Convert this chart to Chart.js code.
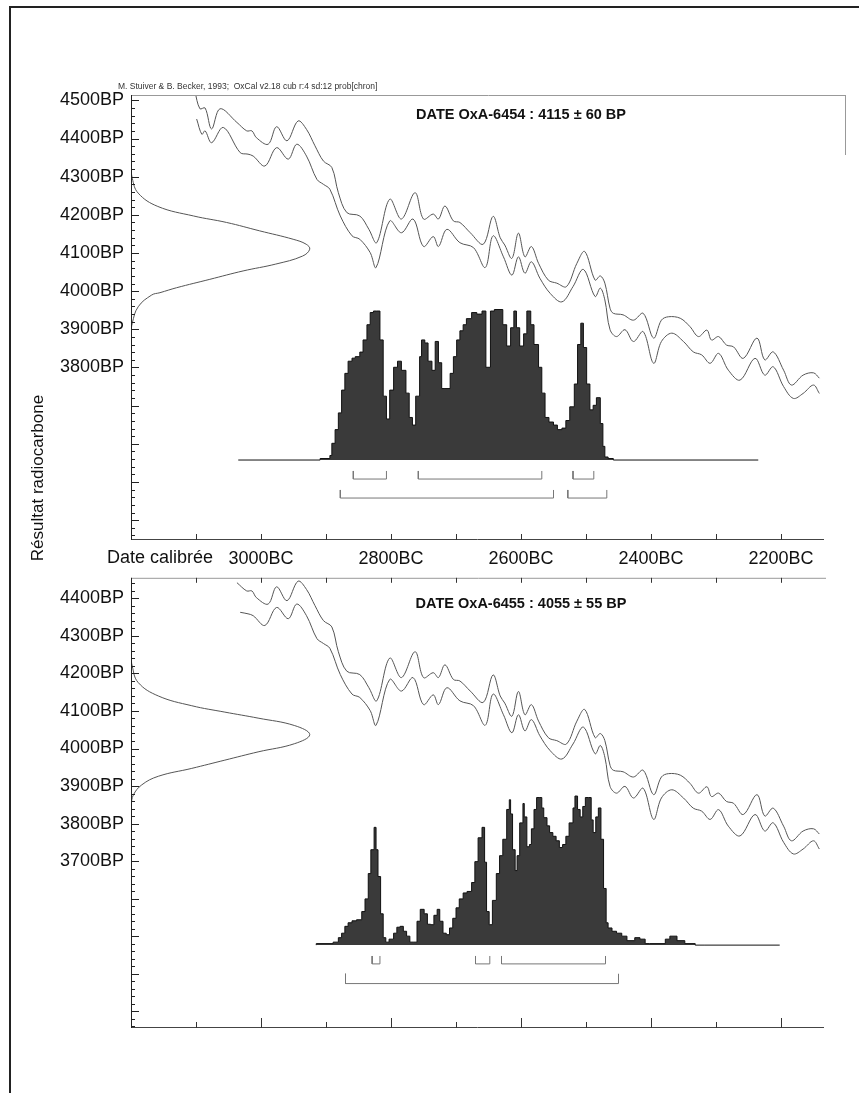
<!DOCTYPE html>
<html>
<head>
<meta charset="utf-8">
<script src="https://cdn.jsdelivr.net/npm/chart.js@4.4.1/dist/chart.umd.min.js"></script>
<style>
  body { margin: 0; background: #fff; width: 859px; height: 1093px; position: relative; overflow: hidden; }
  #page { position: absolute; left: 9px; top: 6px; width: 860px; height: 1100px; border-left: 2px solid #222; border-top: 2px solid #222; }
  #c1 { position: absolute; left: 0; top: 0; }
  #c2 { position: absolute; left: 0; top: 560px; }
</style>
</head>
<body>
<div id="page"></div>
<canvas id="c1" width="859" height="580" style="width:859px;height:580px"></canvas>
<canvas id="c2" width="859" height="533" style="width:859px;height:533px"></canvas>
<script>
const sourceText = "M. Stuiver & B. Becker, 1993;  OxCal v2.18 cub r:4 sd:12 prob[chron]";
const titles = ["DATE OxA-6454 : 4115 ± 60 BP", "DATE OxA-6455 : 4055 ± 55 BP"];
const bcTicks = [3000, 2800, 2600, 2400, 2200];
const bpTicksTop = [4500, 4400, 4300, 4200, 4100, 4000, 3900, 3800];
const bpTicksBottom = [4400, 4300, 4200, 4100, 4000, 3900, 3800, 3700];

// calibration curve, [BC, BP]
const curveUpper = [
  [3102, 4525], [3094, 4478], [3086, 4480], [3076, 4425], [3063, 4478], [3037, 4442], [3022, 4420],
  [3014, 4420], [3007, 4402], [2989, 4385], [2976, 4431], [2960, 4394], [2943, 4446], [2930, 4424],
  [2917, 4381], [2904, 4341], [2891, 4324], [2881, 4258], [2868, 4206], [2848, 4197], [2834, 4162],
  [2822, 4127], [2802, 4241], [2784, 4189], [2763, 4258], [2750, 4189], [2735, 4202], [2727, 4189],
  [2717, 4223], [2704, 4184], [2694, 4180], [2678, 4153], [2658, 4123], [2643, 4196], [2632, 4140],
  [2625, 4121], [2614, 4086], [2604, 4152], [2594, 4090], [2584, 4117], [2573, 4073], [2558, 4029],
  [2545, 4021], [2530, 4012], [2514, 4073], [2502, 4104], [2486, 4029], [2478, 4040], [2471, 4021],
  [2463, 3955], [2458, 3942], [2443, 3938], [2427, 3924], [2412, 3942], [2396, 3877], [2384, 3924],
  [2373, 3933], [2355, 3929], [2340, 3907], [2327, 3881], [2314, 3898], [2307, 3872], [2296, 3881],
  [2284, 3859], [2273, 3854], [2258, 3824], [2237, 3877], [2225, 3820], [2212, 3841], [2196, 3793],
  [2184, 3754], [2166, 3780], [2150, 3786], [2141, 3772]
];
const curveLower = [
  [3099, 4451], [3091, 4411], [3086, 4420], [3076, 4389], [3058, 4429], [3032, 4363], [3020, 4359],
  [3012, 4354], [2994, 4328], [2976, 4376], [2958, 4346], [2945, 4385], [2930, 4354], [2914, 4293],
  [2904, 4280], [2894, 4267], [2878, 4197], [2860, 4145], [2848, 4136], [2832, 4101], [2823, 4062],
  [2802, 4184], [2784, 4153], [2766, 4189], [2750, 4117], [2735, 4143], [2727, 4117], [2714, 4162],
  [2694, 4127], [2673, 4114], [2655, 4062], [2643, 4145], [2627, 4090], [2614, 4042], [2604, 4090],
  [2594, 4047], [2584, 4077], [2571, 4034], [2555, 3994], [2537, 3972], [2520, 4012], [2504, 4057],
  [2486, 3986], [2478, 4008], [2471, 3977], [2463, 3899], [2453, 3881], [2440, 3899], [2427, 3868],
  [2412, 3894], [2396, 3811], [2384, 3868], [2368, 3890], [2350, 3868], [2335, 3841], [2322, 3833],
  [2309, 3811], [2296, 3837], [2281, 3793], [2263, 3767], [2240, 3824], [2225, 3780], [2212, 3802],
  [2196, 3750], [2181, 3719], [2166, 3732], [2150, 3754], [2141, 3732]
];
const curveStartBottom = 3038;

// radiocarbone measurement, [BP, relative height]
const gaussTop = [
  [4330, 0], [4296, 0.007], [4257, 0.04], [4222, 0.15], [4197, 0.35], [4180, 0.535], [4158, 0.72],
  [4136, 0.907], [4123, 0.98], [4110, 1], [4092, 0.96], [4071, 0.81], [4053, 0.627], [4031, 0.441],
  [4009, 0.255], [3996, 0.162], [3990, 0.116], [3959, 0.04], [3916, 0.007], [3890, 0]
];
const gaussBottom = [
  [4250, 0], [4219, 0.007], [4176, 0.04], [4140, 0.153], [4114, 0.34], [4097, 0.525], [4081, 0.711],
  [4061, 0.916], [4037, 1], [4013, 0.916], [3991, 0.711], [3969, 0.525], [3947, 0.34], [3926, 0.153],
  [3903, 0.06], [3876, 0.013], [3850, 0]
];

// calibrated probability
const histTopBC = [3035, 2909, 2894, 2891, 2886, 2881, 2876, 2871, 2866, 2860, 2855, 2848, 2843, 2837,
  2832, 2827, 2822, 2817, 2812, 2807, 2802, 2796, 2790, 2784, 2777, 2772, 2767, 2762, 2756, 2753, 2748,
  2743, 2737, 2732, 2727, 2722, 2717, 2709, 2704, 2699, 2694, 2689, 2684, 2676, 2668, 2660, 2654, 2647,
  2641, 2628, 2622, 2616, 2611, 2607, 2602, 2596, 2591, 2585, 2580, 2573, 2568, 2563, 2557, 2550, 2544,
  2537, 2531, 2525, 2518, 2513, 2508, 2504, 2499, 2494, 2489, 2484, 2478, 2474, 2471, 2466, 2458, 2235];
const histTopProb = [0, 0, 0.01, 0.03, 0.11, 0.2, 0.31, 0.46, 0.57, 0.65, 0.67, 0.68, 0.71, 0.79,
  0.89, 0.97, 0.98, 0.98, 0.79, 0.42, 0.27, 0.46, 0.61, 0.65, 0.59, 0.44, 0.28, 0.23, 0.42, 0.68, 0.79,
  0.77, 0.65, 0.59, 0.78, 0.64, 0.47, 0.47, 0.57, 0.68, 0.79, 0.85, 0.89, 0.93, 0.97, 0.96, 0.98, 0.61,
  0.98, 0.99, 0.89, 0.75, 0.87, 0.98, 0.87, 0.75, 0.83, 0.98, 0.89, 0.76, 0.61, 0.44, 0.28, 0.25, 0.23,
  0.2, 0.21, 0.26, 0.35, 0.5, 0.76, 0.9, 0.74, 0.5, 0.33, 0.36, 0.41, 0.24, 0.09, 0.02, 0.01, 0];
const histBotBC = [2915, 2889, 2881, 2876, 2871, 2866, 2860, 2853, 2845, 2840, 2835, 2831, 2826, 2823,
  2820, 2816, 2812, 2808, 2803, 2796, 2791, 2786, 2781, 2776, 2771, 2766, 2760, 2755, 2749, 2744, 2739,
  2734, 2729, 2725, 2720, 2715, 2710, 2705, 2700, 2695, 2689, 2683, 2676, 2671, 2666, 2660, 2656, 2653,
  2649, 2644, 2638, 2633, 2628, 2622, 2618, 2616, 2613, 2609, 2606, 2602, 2597, 2595, 2591, 2587, 2584,
  2580, 2576, 2572, 2568, 2565, 2560, 2556, 2551, 2546, 2541, 2536, 2531, 2526, 2520, 2517, 2513, 2509,
  2505, 2501, 2496, 2492, 2489, 2485, 2481, 2477, 2473, 2469, 2466, 2460, 2453, 2445, 2437, 2425, 2417,
  2409, 2402, 2378, 2371, 2360, 2348, 2332, 2317, 2202];
const histBotProb = [0, 0.01, 0.02, 0.05, 0.08, 0.126, 0.15, 0.163, 0.17, 0.225, 0.31, 0.48, 0.64, 0.79,
  0.64, 0.46, 0.21, 0.05, 0.02, 0.04, 0.08, 0.12, 0.126, 0.093, 0.06, 0.02, 0.02, 0.16, 0.24, 0.21, 0.14,
  0.137, 0.2, 0.24, 0.16, 0.08, 0.07, 0.115, 0.18, 0.25, 0.31, 0.35, 0.36, 0.42, 0.56, 0.72, 0.79, 0.556,
  0.225, 0.137, 0.3, 0.48, 0.6, 0.71, 0.91, 0.975, 0.88, 0.64, 0.5, 0.6, 0.82, 0.95, 0.86, 0.66, 0.675,
  0.78, 0.91, 0.99, 0.99, 0.92, 0.855, 0.8, 0.755, 0.73, 0.7, 0.655, 0.675, 0.73, 0.82, 0.92, 1, 0.91,
  0.86, 0.93, 0.99, 0.99, 0.84, 0.755, 0.86, 0.92, 0.71, 0.38, 0.15, 0.115, 0.093, 0.08, 0.06, 0.03, 0.05,
  0.04, 0.01, 0.01, 0.04, 0.06, 0.03, 0.01, 0, 0];

// 1 sigma / 2 sigma ranges, [from BC, to BC]
const sig1Top = [[2858, 2807], [2758, 2568], [2520, 2488]];
const sig2Top = [[2878, 2550], [2528, 2468]];
const sig1Bot = [[2829, 2817], [2670, 2648], [2630, 2470]];
const sig2Bot = [[2870, 2450]];

const FONT = "'Liberation Sans', Arial, sans-serif";
Chart.defaults.font.family = FONT;

function line(ctx, x1, y1, x2, y2) {
  ctx.beginPath();
  ctx.moveTo(x1, y1);
  ctx.lineTo(x2, y2);
  ctx.stroke();
}

const decor = {
  id: "decor",
  afterDraw(chart, args, o) {
    const { ctx, chartArea: a, scales: { x, y } } = chart;
    ctx.save();
    ctx.lineWidth = 1;
    // frame
    ctx.strokeStyle = "#999";
    line(ctx, a.left, a.top + 0.5, o.rightBorder ? a.right : a.right - 20, a.top + 0.5);
    if (o.rightBorder) line(ctx, a.right - 0.5, a.top, a.right - 0.5, a.top + 60);
    ctx.strokeStyle = "#444";
    line(ctx, a.left, a.bottom - 0.5, a.right - 22, a.bottom - 0.5);
    ctx.strokeStyle = "#222";
    line(ctx, a.left + 0.5, a.top, a.left + 0.5, a.bottom);
    // y ticks, inside
    for (let v = Math.ceil(y.min / 20) * 20; v <= y.max; v += 20) {
      const py = Math.round(y.getPixelForValue(v)) + 0.5;
      line(ctx, a.left, py, a.left + (v % 100 === 0 ? 8 : 4), py);
    }
    // x ticks, inside
    ctx.strokeStyle = "#333";
    for (let v = 3100; v > x.min; v -= 100) {
      const px = Math.round(x.getPixelForValue(v)) + 0.5;
      if (o.xTicksTop) line(ctx, px, a.top, px, a.top + 5);
      const len = o.longEven && v % 200 === 0 ? 10 : 6;
      line(ctx, px, a.bottom, px, a.bottom - len);
    }
    // texts
    ctx.fillStyle = "#111";
    ctx.font = "bold 14.5px " + FONT;
    ctx.textAlign = "center";
    ctx.textBaseline = "middle";
    ctx.fillText(o.title, x.getPixelForValue(2600), o.titleY);
    if (o.source) {
      ctx.font = "8.5px " + FONT;
      ctx.textAlign = "left";
      ctx.fillStyle = "#333";
      ctx.fillText(sourceText, 118, 87);
      ctx.fillStyle = "#111";
      ctx.font = "18px " + FONT;
      ctx.fillText("Date calibrée", 107, 558);
      ctx.save();
      ctx.translate(38, 478);
      ctx.rotate(-Math.PI / 2);
      ctx.textAlign = "center";
      ctx.font = "17px " + FONT;
      ctx.fillText("Résultat radiocarbone", 0, 0);
      ctx.restore();
    }
    ctx.restore();
  },
};

function bracketSets(ranges, yTop, yBot) {
  return ranges.map(([b1, b2]) => ({
    data: [{ x: b1, y: yTop }, { x: b1, y: yBot }, { x: b2, y: yBot }, { x: b2, y: yTop }],
    xAxisID: "x", yAxisID: "yp", borderColor: "#777", borderWidth: 1, pointRadius: 0, tension: 0,
  }));
}

function panel(id, o) {
  const curveSet = (pts) => ({
    data: pts.filter((p) => p[0] <= o.curveStart).map(([bc, bp]) => ({ x: bc, y: bp })),
    xAxisID: "x", yAxisID: "y", borderColor: "#555", borderWidth: 1, pointRadius: 0, tension: 0.35,
  });
  const datasets = [
    {
      data: o.histBC.map((bc, i) => ({ x: bc, y: o.histProb[i] })),
      xAxisID: "x", yAxisID: "yp", stepped: "after", fill: "origin",
      backgroundColor: "#3a3a3a", borderColor: "#111", borderWidth: 1, pointRadius: 0,
    },
    curveSet(curveUpper),
    curveSet(curveLower),
    {
      data: o.gauss.map(([bp, h]) => ({ x: h, y: bp })),
      xAxisID: "xg", yAxisID: "y", borderColor: "#555", borderWidth: 1, pointRadius: 0, tension: 0.4,
    },
    ...bracketSets(o.sig1, o.row1[0], o.row1[1]),
    ...bracketSets(o.sig2, o.row2[0], o.row2[1]),
  ];
  return new Chart(document.getElementById(id), {
    type: "line",
    data: { datasets },
    plugins: [decor],
    options: {
      responsive: false,
      animation: false,
      devicePixelRatio: 1,
      layout: { padding: o.padding },
      plugins: {
        legend: { display: false },
        tooltip: { enabled: false },
        decor: o.decor,
      },
      scales: {
        x: {
          type: "linear", reverse: true, min: 2100, max: 3200,
          display: o.showX,
          grid: { display: false, drawTicks: false },
          border: { display: false },
          afterBuildTicks: (s) => { s.ticks = bcTicks.map((v) => ({ value: v })); },
          afterFit: (s) => { if (o.showX) s.height = 40; },
          ticks: {
            autoSkip: false, maxRotation: 0, padding: 8, color: "#111",
            font: { size: 18 }, callback: (v) => v + "BC",
          },
        },
        y: {
          type: "linear", min: o.yMin, max: o.yMax,
          grid: { display: false, drawTicks: false },
          border: { display: false },
          afterBuildTicks: (s) => { s.ticks = o.bpTicks.map((v) => ({ value: v })); },
          afterFit: (s) => { s.width = 131; },
          ticks: { padding: 7, color: "#111", font: { size: 18 }, callback: (v) => v + "BP" },
        },
        xg: { type: "linear", display: false, min: 0, max: 4 },
        yp: { type: "linear", display: false, min: o.ypMin, max: o.ypMax },
      },
    },
  });
}

panel("c1", {
  padding: { left: 0, top: 95, right: 13, bottom: 0 },
  showX: true, yMin: 3348, yMax: 4514, bpTicks: bpTicksTop,
  ypMin: -0.526, ypMax: 2.401, curveStart: 9999,
  histBC: histTopBC, histProb: histTopProb, gauss: gaussTop,
  sig1: sig1Top, sig2: sig2Top, row1: [-0.072, -0.125], row2: [-0.197, -0.25],
  decor: { title: titles[0], titleY: 115, source: true, rightBorder: true, xTicksTop: false, longEven: false },
});

panel("c2", {
  padding: { left: 0, top: 12, right: 13, bottom: 65 },
  showX: false, yMin: 3255, yMax: 4455, bpTicks: bpTicksBottom,
  ypMin: -0.556, ypMax: 2.464, curveStart: curveStartBottom,
  histBC: histBotBC, histProb: histBotProb, gauss: gaussBottom,
  sig1: sig1Bot, sig2: sig2Bot, row1: [-0.073, -0.126], row2: [-0.192, -0.258],
  decor: { title: titles[1], titleY: 44, source: false, rightBorder: false, xTicksTop: true, longEven: true },
});
</script>
</body>
</html>
